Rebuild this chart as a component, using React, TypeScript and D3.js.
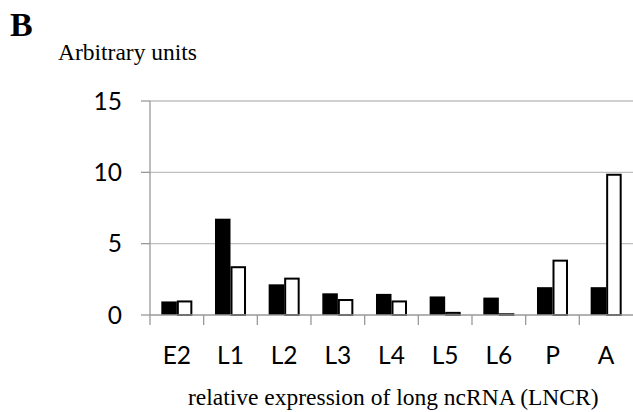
import React from "react";
import * as d3 from "d3";

const categories = ["E2", "L1", "L2", "L3", "L4", "L5", "L6", "P", "A"];
const blackSeries = [0.95, 6.75, 2.15, 1.52, 1.48, 1.3, 1.22, 1.95, 1.95];
const whiteSeries = [1.02, 3.42, 2.62, 1.12, 1.02, 0.22, 0.12, 3.88, 9.9];
const yTicks = [0, 5, 10, 15];

const W = 633;
const H = 412;
const left = 150;
const right = 633;
const top = 101;
const bottom = 315;

export default function App() {
  const x0 = d3.scaleBand<string>().domain(categories).range([left, right]).padding(0);
  const x1 = d3
    .scaleBand<string>()
    .domain(["b", "w"])
    .range([0, x0.bandwidth()])
    .paddingInner(0)
    .paddingOuter(0.73);
  const y = d3.scaleLinear().domain([0, 15]).range([bottom, top]);
  const tickFont = "Lato, 'Open Sans', sans-serif";
  const serif = "'Liberation Serif', 'Times New Roman', serif";

  return (
    <svg
      width={W}
      height={H}
      style={{ position: "absolute", left: 0, top: 0, background: "#fff" }}
    >
      <rect x={0} y={0} width={W} height={H} fill="#fff" />
      <text x={10} y={36} fontFamily={serif} fontWeight="bold" fontSize={34} fill="#000">
        B
      </text>
      <text x={58} y={60} fontFamily={serif} fontSize={23.5} fill="#000">
        Arbitrary units
      </text>
      {yTicks.map((t) => (
        <g key={t}>
          {t > 0 && (
            <line x1={left} x2={right} y1={y(t)} y2={y(t)} stroke="#c0c0c0" strokeWidth={1.3} />
          )}
          <line x1={left - 9} x2={left} y1={y(t)} y2={y(t)} stroke="#999" strokeWidth={1.3} />
          <text
            x={122}
            y={y(t)}
            dy="0.36em"
            textAnchor="end"
            fontFamily={tickFont}
            fontSize={24.5}
            fill="#000"
          >
            {t}
          </text>
        </g>
      ))}
      {categories.map((c, i) => (
        <g key={c}>
          <rect
            x={(x0(c) as number) + (x1("b") as number)}
            y={y(blackSeries[i])}
            width={x1.bandwidth()}
            height={bottom - y(blackSeries[i])}
            fill="#000"
          />
          <rect
            x={(x0(c) as number) + (x1("w") as number) + 1}
            y={y(whiteSeries[i]) + 1}
            width={x1.bandwidth() - 2}
            height={Math.max(0, bottom - y(whiteSeries[i]) - 1)}
            fill="#fff"
            stroke="#000"
            strokeWidth={2}
          />
          <text
            x={(x0(c) as number) + x0.bandwidth() / 2}
            y={364}
            textAnchor="middle"
            fontFamily={tickFont}
            fontSize={24.5}
            fill="#000"
          >
            {c}
          </text>
        </g>
      ))}
      <line x1={left} x2={right} y1={bottom} y2={bottom} stroke="#999" strokeWidth={1.3} />
      <line x1={left} x2={left} y1={top} y2={bottom} stroke="#999" strokeWidth={1.3} />
      {categories.map((c) => (
        <line
          key={"t" + c}
          x1={x0(c) as number}
          x2={x0(c) as number}
          y1={bottom}
          y2={bottom + 10}
          stroke="#999"
          strokeWidth={1.3}
        />
      ))}
      <text x={188} y={405} fontFamily={serif} fontSize={23.5} fill="#000">
        relative expression of long ncRNA (LNCR)
      </text>
    </svg>
  );
}
